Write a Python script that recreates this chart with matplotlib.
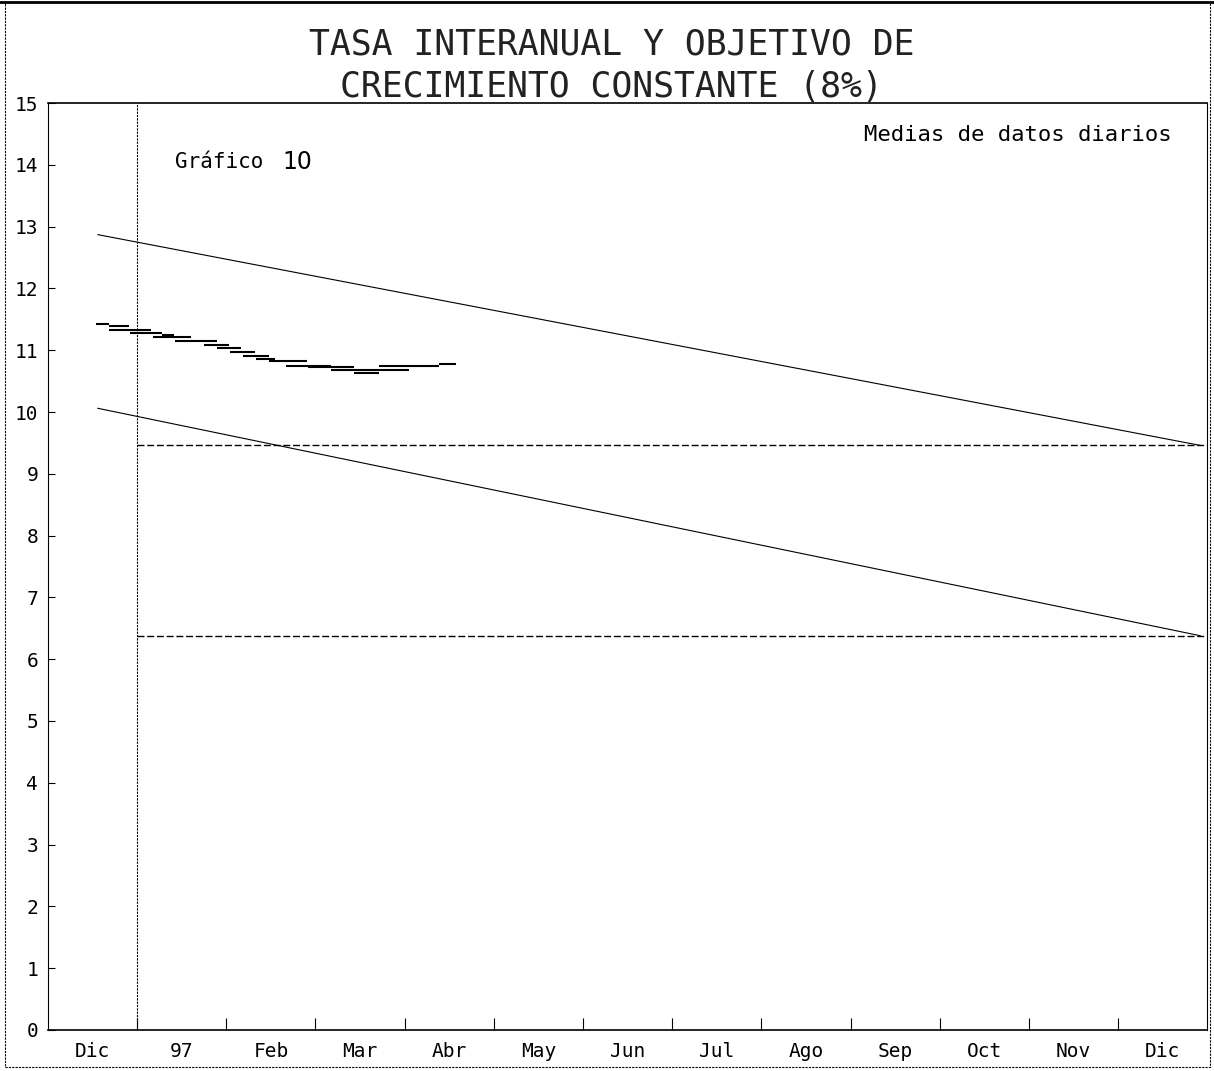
import matplotlib
matplotlib.use("Agg")
import matplotlib.pyplot as plt
from matplotlib.patches import Rectangle

# Eje x en meses: 0 = 1 dic 1996, 13 = fin dic 1997
meses = ["Dic", "97", "Feb", "Mar", "Abr", "May", "Jun", "Jul", "Ago", "Sep", "Oct", "Nov", "Dic"]

# Tasa interanual (medias de datos diarios): tramos (inicio, fin, valor)
tramo_ini = [0.54, 0.68, 0.68, 0.92, 1.28, 1.18, 1.42, 1.75, 1.90, 2.04, 2.19, 2.33,
             2.48, 2.67, 2.92, 3.17, 3.43, 3.71, 4.38]
tramo_fin = [0.68, 0.91, 1.15, 1.28, 1.41, 1.60, 1.90, 2.03, 2.16, 2.32, 2.48, 2.55,
             2.91, 3.17, 3.43, 4.05, 3.71, 4.38, 4.57]
tasa = [11.43, 11.39, 11.33, 11.28, 11.25, 11.21, 11.15, 11.09, 11.04, 10.97, 10.91, 10.86,
        10.83, 10.75, 10.73, 10.68, 10.63, 10.75, 10.78]

# Bandas del objetivo
banda_x = [0.56, 12.92]
banda_sup = [12.87, 9.46]
banda_inf = [10.06, 6.38]
objetivo_x = [1.0, 13.0]
objetivo_sup = 9.46
objetivo_inf = 6.38

fuente = "DejaVu Sans Mono"

fig = plt.figure(figsize=(12.14, 10.71), dpi=100)
ax = fig.add_axes([0.0395, 0.0383, 0.955, 0.8655])

ax.hlines(tasa, tramo_ini, tramo_fin, color="black", lw=1.5)
ax.plot(banda_x, banda_sup, color="black", lw=0.8)
ax.plot(banda_x, banda_inf, color="black", lw=0.8)
ax.hlines([objetivo_sup, objetivo_inf], objetivo_x[0], objetivo_x[1], color="black",
          lw=1.0, linestyles=(0, (5, 2)))
ax.axvline(1.0, color="black", lw=0.8, ls=(0, (2, 1)))

ax.set_xlim(0, 13)
ax.set_ylim(0, 15)
ax.set_yticks(range(0, 16))
ax.set_xticks(range(1, 13))
ax.set_xticklabels([])
ax.set_xticks([i + 0.5 for i in range(13)], minor=True)
ax.set_xticklabels(meses, minor=True, fontfamily=fuente, fontsize=14)
ax.tick_params(axis="x", which="major", direction="in", length=9, width=0.8)
ax.tick_params(axis="x", which="minor", length=0, pad=9)
ax.tick_params(axis="y", direction="in", length=5, width=0.8, pad=7)
for lab in ax.get_yticklabels():
    lab.set_fontfamily(fuente)
    lab.set_fontsize(14)

for lado in ["left", "right"]:
    ax.spines[lado].set_linestyle((0, (2, 1)))
    ax.spines[lado].set_linewidth(0.8)
for lado in ["top", "bottom"]:
    ax.spines[lado].set_linewidth(1.2)

ax.text(0.110, 0.936, "Gráfico", transform=ax.transAxes, fontfamily=fuente,
        fontsize=15, va="center", ha="left")
ax.text(0.2025, 0.936, "10", transform=ax.transAxes, fontfamily="DejaVu Sans",
        fontsize=17, va="center", ha="left")
ax.text(0.969, 0.965, "Medias de datos diarios", transform=ax.transAxes,
        fontfamily=fuente, fontsize=16, va="center", ha="right")

fig.text(0.504, 0.958, "TASA INTERANUAL Y OBJETIVO DE", fontfamily=fuente,
         fontsize=25, ha="center", va="center", color="#222222")
fig.text(0.504, 0.919, "CRECIMIENTO CONSTANTE (8%)", fontfamily=fuente,
         fontsize=25, ha="center", va="center", color="#222222")

# marco exterior
fig.add_artist(Rectangle((0.004, 0.004), 0.993, 0.994, transform=fig.transFigure,
                         fill=False, lw=0.8, ls=(0, (2, 1)), color="black"))
fig.add_artist(plt.Line2D([0, 1], [0.998, 0.998], transform=fig.transFigure,
                          color="black", lw=2))

fig.savefig("out.png", dpi=100)
